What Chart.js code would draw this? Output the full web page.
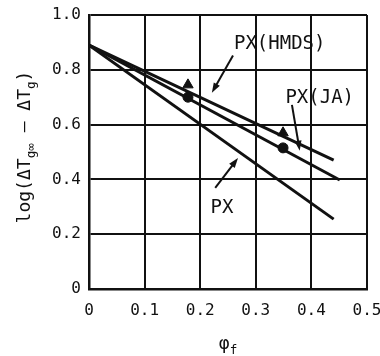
<!DOCTYPE html>
<html>
<head>
<meta charset="utf-8">
<script src="https://cdn.jsdelivr.net/npm/chart.js@4/dist/chart.umd.min.js"></script>
<style>
  body { margin: 0; background: #fff; }
  #wrap { width: 380px; height: 356px; }
</style>
</head>
<body>
<div id="wrap"><canvas id="chart"></canvas></div>
<script>
// values
const lineNames = ["PX", "PX(JA)", "PX(HMDS)"];
const lineX = [[0, 0.44], [0, 0.451], [0, 0.44]];
const lineY = [[0.89, 0.255], [0.89, 0.398], [0.89, 0.47]];
const markerX = [0.178, 0.349];
const triangleY = [0.745, 0.57];
const circleY = [0.70, 0.515];
const xTicks = [0, 0.1, 0.2, 0.3, 0.4, 0.5];
const yTicks = [0, 0.2, 0.4, 0.6, 0.8, 1.0];

const ink = "#111";
const mono = "'DejaVu Sans Mono', monospace";

// labels with arrows pointing at the lines
const notes = [
  { text: "PX(HMDS)", at: [0.343, 0.894], from: [0.259, 0.852], to: [0.221, 0.716] },
  { text: "PX(JA)", at: [0.415, 0.697], from: [0.365, 0.672], to: [0.379, 0.505] },
  { text: "PX", at: [0.239, 0.296], from: [0.227, 0.369], to: [0.268, 0.478] },
];

function drawParts(ctx, parts, size) {
  // text with subscripts, centred on the current origin
  let w = 0;
  parts.forEach(p => {
    ctx.font = (p.sub ? size * 0.7 : size) + "px " + mono;
    w += ctx.measureText(p.t).width;
  });
  let x = -w / 2;
  parts.forEach(p => {
    ctx.font = (p.sub ? size * 0.7 : size) + "px " + mono;
    ctx.fillText(p.t, x, p.sub ? size * 0.3 : 0);
    x += ctx.measureText(p.t).width;
  });
}

const extras = {
  id: "extras",
  afterDraw(chart) {
    const ctx = chart.ctx;
    const xs = chart.scales.x, ys = chart.scales.y;
    ctx.save();
    ctx.fillStyle = ink;
    ctx.strokeStyle = ink;
    ctx.textAlign = "center";
    ctx.textBaseline = "middle";
    ctx.font = "19px " + mono;
    notes.forEach(n => {
      ctx.fillText(n.text, xs.getPixelForValue(n.at[0]), ys.getPixelForValue(n.at[1]));
      const x1 = xs.getPixelForValue(n.from[0]), y1 = ys.getPixelForValue(n.from[1]);
      const x2 = xs.getPixelForValue(n.to[0]), y2 = ys.getPixelForValue(n.to[1]);
      const a = Math.atan2(y2 - y1, x2 - x1);
      ctx.lineWidth = 2;
      ctx.beginPath();
      ctx.moveTo(x1, y1);
      ctx.lineTo(x2 - 6 * Math.cos(a), y2 - 6 * Math.sin(a));
      ctx.stroke();
      ctx.beginPath();
      ctx.moveTo(x2, y2);
      ctx.lineTo(x2 - 10 * Math.cos(a) + 3.5 * Math.sin(a), y2 - 10 * Math.sin(a) - 3.5 * Math.cos(a));
      ctx.lineTo(x2 - 10 * Math.cos(a) - 3.5 * Math.sin(a), y2 - 10 * Math.sin(a) + 3.5 * Math.cos(a));
      ctx.closePath();
      ctx.fill();
    });

    // axis titles
    ctx.textAlign = "left";
    ctx.textBaseline = "alphabetic";
    ctx.save();
    ctx.translate(30, 147);
    ctx.rotate(-Math.PI / 2);
    drawParts(ctx, [
      { t: "log(ΔT" }, { t: "g∞", sub: true }, { t: " — ΔT" }, { t: "g", sub: true }, { t: ")" }
    ], 18);
    ctx.restore();
    ctx.save();
    ctx.translate(228, 349);
    drawParts(ctx, [{ t: "φ" }, { t: "f", sub: true }], 18);
    ctx.restore();
    ctx.restore();
  }
};

const datasets = lineNames.map((name, i) => ({
  label: name,
  data: lineX[i].map((x, j) => ({ x: x, y: lineY[i][j] })),
  borderColor: ink,
  borderWidth: 3,
  pointRadius: 0,
  showLine: true,
}));
datasets.push({
  label: "triangles",
  data: markerX.map((x, j) => ({ x: x, y: triangleY[j] })),
  pointStyle: "triangle",
  pointRadius: 6,
  backgroundColor: ink,
  borderColor: ink,
  showLine: false,
});
datasets.push({
  label: "circles",
  data: markerX.map((x, j) => ({ x: x, y: circleY[j] })),
  pointStyle: "circle",
  pointRadius: 5,
  backgroundColor: ink,
  borderColor: ink,
  showLine: false,
});

new Chart(document.getElementById("chart"), {
  type: "scatter",
  data: { datasets: datasets },
  options: {
    responsive: true,
    maintainAspectRatio: false,
    animation: false,
    layout: { padding: { top: 15, right: 13, left: 0, bottom: 0 } },
    plugins: { legend: { display: false }, tooltip: { enabled: false } },
    scales: {
      x: {
        type: "linear",
        min: 0,
        max: 0.5,
        afterBuildTicks: s => { s.ticks = xTicks.map(v => ({ value: v })); },
        afterFit: s => { s.height = 67; s.paddingLeft = 0; s.paddingRight = 0; },
        grid: { color: ink, lineWidth: 2, drawTicks: false },
        border: { color: ink, width: 2.5 },
        ticks: {
          color: ink,
          padding: 12,
          font: { family: mono, size: 16 },
          callback: v => v === 0 ? "0" : v.toFixed(1),
        },
      },
      y: {
        type: "linear",
        min: 0,
        max: 1.0,
        afterBuildTicks: s => { s.ticks = yTicks.map(v => ({ value: v })); },
        afterFit: s => { s.width = 89; s.paddingTop = 0; s.paddingBottom = 0; },
        grid: { color: ink, lineWidth: 2, drawTicks: false },
        border: { color: ink, width: 2.5 },
        ticks: {
          color: ink,
          padding: 8,
          font: { family: mono, size: 16 },
          callback: v => v === 0 ? "0" : v.toFixed(1),
        },
      },
    },
  },
  plugins: [extras],
});
</script>
</body>
</html>
